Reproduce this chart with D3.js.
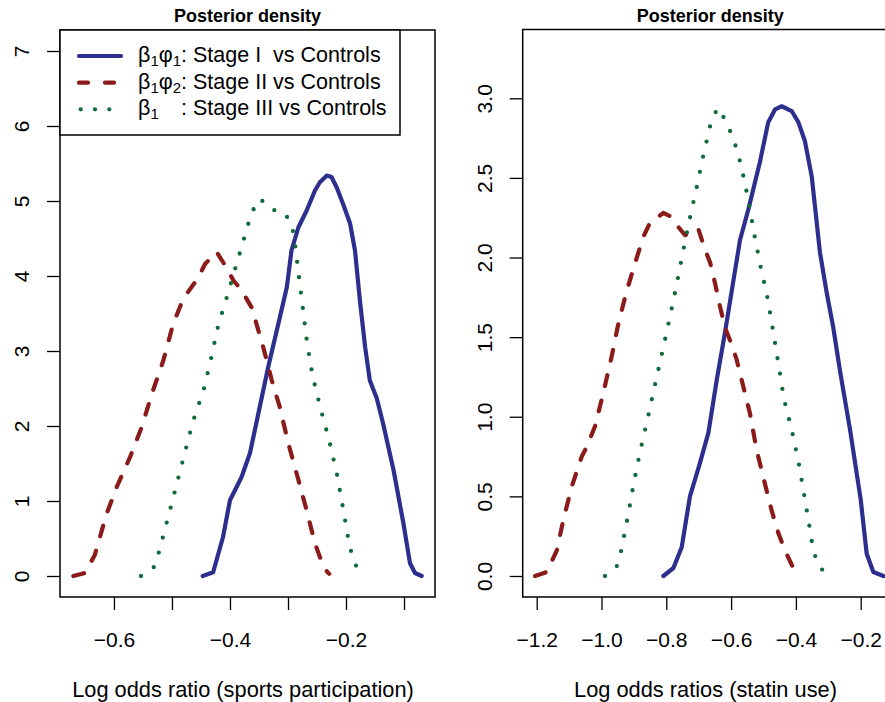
<!DOCTYPE html>
<html lang="en">
<head>
  <meta charset="UTF-8">
  <title>Posterior density</title>
  <script src="https://d3js.org/d3.v7.min.js"></script>
  <style>
    body { margin: 0; background: #fff; }
    svg { display: block; font-family: "Liberation Sans", Arial, Helvetica, sans-serif; }
    text { white-space: pre; }
  </style>
</head>
<body>
  <svg width="885" height="702"></svg>

  <script>
    // ---- data ----
    const seriesNames = ["Stage I  vs Controls", "Stage II vs Controls", "Stage III vs Controls"];
    const seriesColors = ["#2d2f8e", "#8b1a1a", "#0f6b3a"];

    // left panel: log odds ratio (sports participation)
    const sportsStage1 = [[-0.447,0],[-0.429,0.05],[-0.412,0.52],[-0.400,1.01],[-0.380,1.32],[-0.3655,1.64],[-0.351,2.17],[-0.334,2.79],[-0.314,3.45],[-0.302,3.85],[-0.294,4.34],[-0.282,4.65],[-0.268,4.87],[-0.2535,5.14],[-0.245,5.25],[-0.233,5.34],[-0.225,5.32],[-0.216,5.18],[-0.205,4.96],[-0.193,4.70],[-0.1845,4.34],[-0.176,3.67],[-0.167,3.05],[-0.159,2.61],[-0.147,2.37],[-0.136,2.03],[-0.118,1.41],[-0.101,0.70],[-0.0897,0.17],[-0.081,0.04],[-0.0695,0]];
    const sportsStage2 = [[-0.670,0],[-0.650,0.04],[-0.633,0.28],[-0.6126,0.83],[-0.595,1.19],[-0.572,1.59],[-0.552,1.99],[-0.535,2.42],[-0.515,2.87],[-0.498,3.36],[-0.483,3.65],[-0.4747,3.76],[-0.4546,3.98],[-0.443,4.16],[-0.423,4.32],[-0.4116,4.18],[-0.394,3.94],[-0.380,3.81],[-0.3626,3.58],[-0.3426,3.05],[-0.328,2.61],[-0.314,2.25],[-0.2995,1.77],[-0.282,1.28],[-0.268,0.88],[-0.2535,0.435],[-0.242,0.19],[-0.232,0.05],[-0.229,0.03]];
    const sportsStage3 = [[-0.5534,0],[-0.531,0.12],[-0.522,0.33],[-0.500,0.98],[-0.4638,2.06],[-0.4454,2.48],[-0.432,2.92],[-0.420,3.35],[-0.403,3.78],[-0.3788,4.42],[-0.3626,4.85],[-0.348,5.03],[-0.3298,4.89],[-0.305,4.84],[-0.2926,4.65],[-0.288,4.43],[-0.2776,3.77],[-0.267,3.10],[-0.2574,2.66],[-0.2437,2.23],[-0.2288,1.80],[-0.216,1.37],[-0.2057,0.93],[-0.196,0.49],[-0.1897,0.275],[-0.1793,0.07]];

    // right panel: log odds ratios (statin use)
    const statinStage1 = [[-0.809,0],[-0.778,0.05],[-0.7525,0.18],[-0.727,0.50],[-0.696,0.71],[-0.670,0.90],[-0.6444,1.23],[-0.6188,1.53],[-0.5725,2.11],[-0.547,2.30],[-0.511,2.60],[-0.4853,2.85],[-0.4645,2.93],[-0.4438,2.95],[-0.413,2.92],[-0.3925,2.85],[-0.372,2.73],[-0.3512,2.51],[-0.3256,2.03],[-0.305,1.78],[-0.2846,1.56],[-0.264,1.29],[-0.233,0.92],[-0.200,0.48],[-0.1815,0.14],[-0.161,0.025],[-0.130,0]];
    const statinStage2 = [[-1.205,0],[-1.169,0.025],[-1.138,0.16],[-1.118,0.35],[-1.092,0.56],[-1.061,0.75],[-1.0457,0.81],[-1.020,0.94],[-0.9944,1.15],[-0.9685,1.38],[-0.950,1.565],[-0.9275,1.75],[-0.9018,1.93],[-0.871,2.13],[-0.850,2.22],[-0.809,2.28],[-0.7886,2.26],[-0.778,2.23],[-0.742,2.14],[-0.7012,2.18],[-0.6805,2.05],[-0.665,1.97],[-0.6497,1.84],[-0.634,1.69],[-0.6188,1.56],[-0.6034,1.48],[-0.583,1.36],[-0.5623,1.19],[-0.5417,1.02],[-0.521,0.79],[-0.5006,0.62],[-0.4747,0.41],[-0.4543,0.27],[-0.4336,0.16],[-0.408,0.05],[-0.382,0]];
    const statinStage3 = [[-0.9892,0],[-0.953,0.06],[-0.939,0.16],[-0.919,0.37],[-0.9006,0.58],[-0.881,0.78],[-0.8574,0.99],[-0.835,1.20],[-0.813,1.40],[-0.7917,1.60],[-0.77,1.81],[-0.750,2.02],[-0.729,2.23],[-0.7074,2.43],[-0.6858,2.64],[-0.662,2.85],[-0.6414,2.94],[-0.6167,2.86],[-0.598,2.77],[-0.5808,2.67],[-0.5673,2.56],[-0.5466,2.36],[-0.529,2.15],[-0.5086,1.94],[-0.487,1.74],[-0.4697,1.53],[-0.453,1.32],[-0.4367,1.11],[-0.412,0.91],[-0.3904,0.70],[-0.3728,0.49],[-0.3564,0.29],[-0.348,0.18],[-0.334,0.08],[-0.304,0]];

    // ticks
    const sportsXTicks = [-0.6, -0.5, -0.4, -0.3, -0.2, -0.1];
    const sportsXLabels = ["\u22120.6", "", "\u22120.4", "", "\u22120.2", ""];
    const sportsYTicks = [0, 1, 2, 3, 4, 5, 6, 7];
    const statinXTicks = [-1.2, -1.0, -0.8, -0.6, -0.4, -0.2];
    const statinXLabels = ["\u22121.2", "\u22121.0", "\u22120.8", "\u22120.6", "\u22120.4", "\u22120.2"];
    const statinYTicks = [0, 0.5, 1.0, 1.5, 2.0, 2.5, 3.0];
    const statinYLabels = ["0.0", "0.5", "1.0", "1.5", "2.0", "2.5", "3.0"];

    const svg = d3.select("svg");

    // line styles: solid, dashed, dotted
    const lineStyles = [
      { dash: null, width: 4.2 },
      { dash: "11,15", width: 4.2 },
      { dash: "0,15.5", width: 4.3 }
    ];

    function drawPanel(p) {
      const x = d3.scaleLinear().domain(p.xDomain).range([p.left, p.right]);
      const y = d3.scaleLinear().domain(p.yDomain).range([p.bottom, p.top]);
      const g = svg.append("g");

      const clipId = "clip-" + p.id;
      g.append("clipPath").attr("id", clipId)
        .append("rect")
        .attr("x", p.left).attr("y", p.top)
        .attr("width", p.right - p.left).attr("height", p.bottom - p.top);

      // curves
      const line = d3.line().x(d => x(d[0])).y(d => y(d[1]));
      const curves = g.append("g").attr("clip-path", `url(#${clipId})`);
      p.series.forEach((s, i) => {
        curves.append("path")
          .datum(s)
          .attr("d", line)
          .attr("fill", "none")
          .attr("stroke", seriesColors[i])
          .attr("stroke-width", lineStyles[i].width)
          .attr("stroke-linecap", "round")
          .attr("stroke-linejoin", "round")
          .attr("stroke-dasharray", lineStyles[i].dash);
      });

      // x axis
      const xAxis = g.append("g")
        .attr("transform", `translate(0,${p.bottom})`)
        .call(d3.axisBottom(x).tickValues(p.xTicks).tickSize(13).tickSizeOuter(0)
          .tickFormat((d, i) => p.xLabels[i]));
      xAxis.select(".domain").remove();
      xAxis.selectAll(".tick line").attr("stroke", "#000").attr("stroke-width", 1.3);
      xAxis.selectAll(".tick text")
        .attr("y", 49.5).attr("dy", null)
        .attr("font-size", 21).attr("fill", "#000");

      // y axis, labels rotated like base R
      const yAxis = g.append("g")
        .attr("transform", `translate(${p.left},0)`)
        .call(d3.axisLeft(y).tickValues(p.yTicks).tickSize(13).tickSizeOuter(0)
          .tickFormat((d, i) => p.yLabels[i]));
      yAxis.select(".domain").remove();
      yAxis.selectAll(".tick line").attr("stroke", "#000").attr("stroke-width", 1.3);
      yAxis.selectAll(".tick text")
        .attr("x", 0).attr("dy", null)
        .attr("text-anchor", "middle")
        .attr("transform", "translate(-31,0) rotate(-90)")
        .attr("font-size", 21).attr("fill", "#000");

      // box
      g.append("rect")
        .attr("x", p.left).attr("y", p.top)
        .attr("width", p.right - p.left).attr("height", p.bottom - p.top)
        .attr("fill", "none").attr("stroke", "#000").attr("stroke-width", 1.5);

      // title
      g.append("text")
        .attr("x", (p.left + p.right) / 2).attr("y", 22.3)
        .attr("text-anchor", "middle")
        .attr("font-weight", "bold").attr("font-size", 18)
        .text("Posterior density");

      // x label
      g.append("text")
        .attr("x", p.labelX).attr("y", 697)
        .attr("text-anchor", "middle")
        .attr("font-size", 21.8)
        .text(p.xTitle);

      return { g, x, y };
    }

    const left = drawPanel({
      id: "sports", left: 60, right: 435, top: 30, bottom: 597,
      xDomain: [-0.693, -0.0466], yDomain: [-0.28, 7.28],
      xTicks: sportsXTicks, xLabels: sportsXLabels,
      yTicks: sportsYTicks, yLabels: sportsYTicks.map(String),
      series: [sportsStage1, sportsStage2, sportsStage3],
      xTitle: "Log odds ratio (sports participation)", labelX: 243
    });

    drawPanel({
      id: "statin", left: 522.7, right: 897.7, top: 29.5, bottom: 597,
      xDomain: [-1.2432, -0.0858], yDomain: [-0.132, 3.432],
      xTicks: statinXTicks, xLabels: statinXLabels,
      yTicks: statinYTicks, yLabels: statinYLabels,
      series: [statinStage1, statinStage2, statinStage3],
      xTitle: "Log odds ratios (statin use)", labelX: 705.5
    });

    // legend (top-left of the left panel)
    const lg = left.g.append("g");
    lg.append("rect")
      .attr("x", 60).attr("y", 30).attr("width", 340).attr("height", 105)
      .attr("fill", "#fff").attr("stroke", "#000").attr("stroke-width", 1.5);

    const rowY = [56, 82.65, 109.3];
    const legendFont = 21.5;
    const prefixes = [["\u03b2", "1", "\u03c6", "1"], ["\u03b2", "1", "\u03c6", "2"], ["\u03b2", "1"]];

    let colonX = null;
    seriesNames.forEach((name, i) => {
      lg.append("line")
        .attr("x1", 79).attr("x2", 121)
        .attr("y1", rowY[i]).attr("y2", rowY[i])
        .attr("stroke", seriesColors[i])
        .attr("stroke-width", lineStyles[i].width)
        .attr("stroke-linecap", "round")
        .attr("stroke-dasharray", i === 1 ? "9,17" : (i === 2 ? "0,14.3" : null))
        .attr("transform", i === 2 ? "translate(1.7,0)" : null);

      const t = lg.append("text")
        .attr("x", 138).attr("y", rowY[i] + 6)
        .attr("font-size", legendFont);
      prefixes[i].forEach((s, k) => {
        const isSub = k % 2 === 1;
        t.append("tspan")
          .attr("font-size", isSub ? legendFont * 0.7 : legendFont)
          .attr("dy", isSub ? 4 : (k > 0 ? -4 : 0))
          .text(s);
      });
      if (i === 0) colonX = 138 + t.node().getComputedTextLength();
    });

    seriesNames.forEach((name, i) => {
      lg.append("text")
        .attr("x", colonX).attr("y", rowY[i] + 6)
        .attr("font-size", legendFont)
        .text(": " + name);
    });
  </script>
</body>
</html>
